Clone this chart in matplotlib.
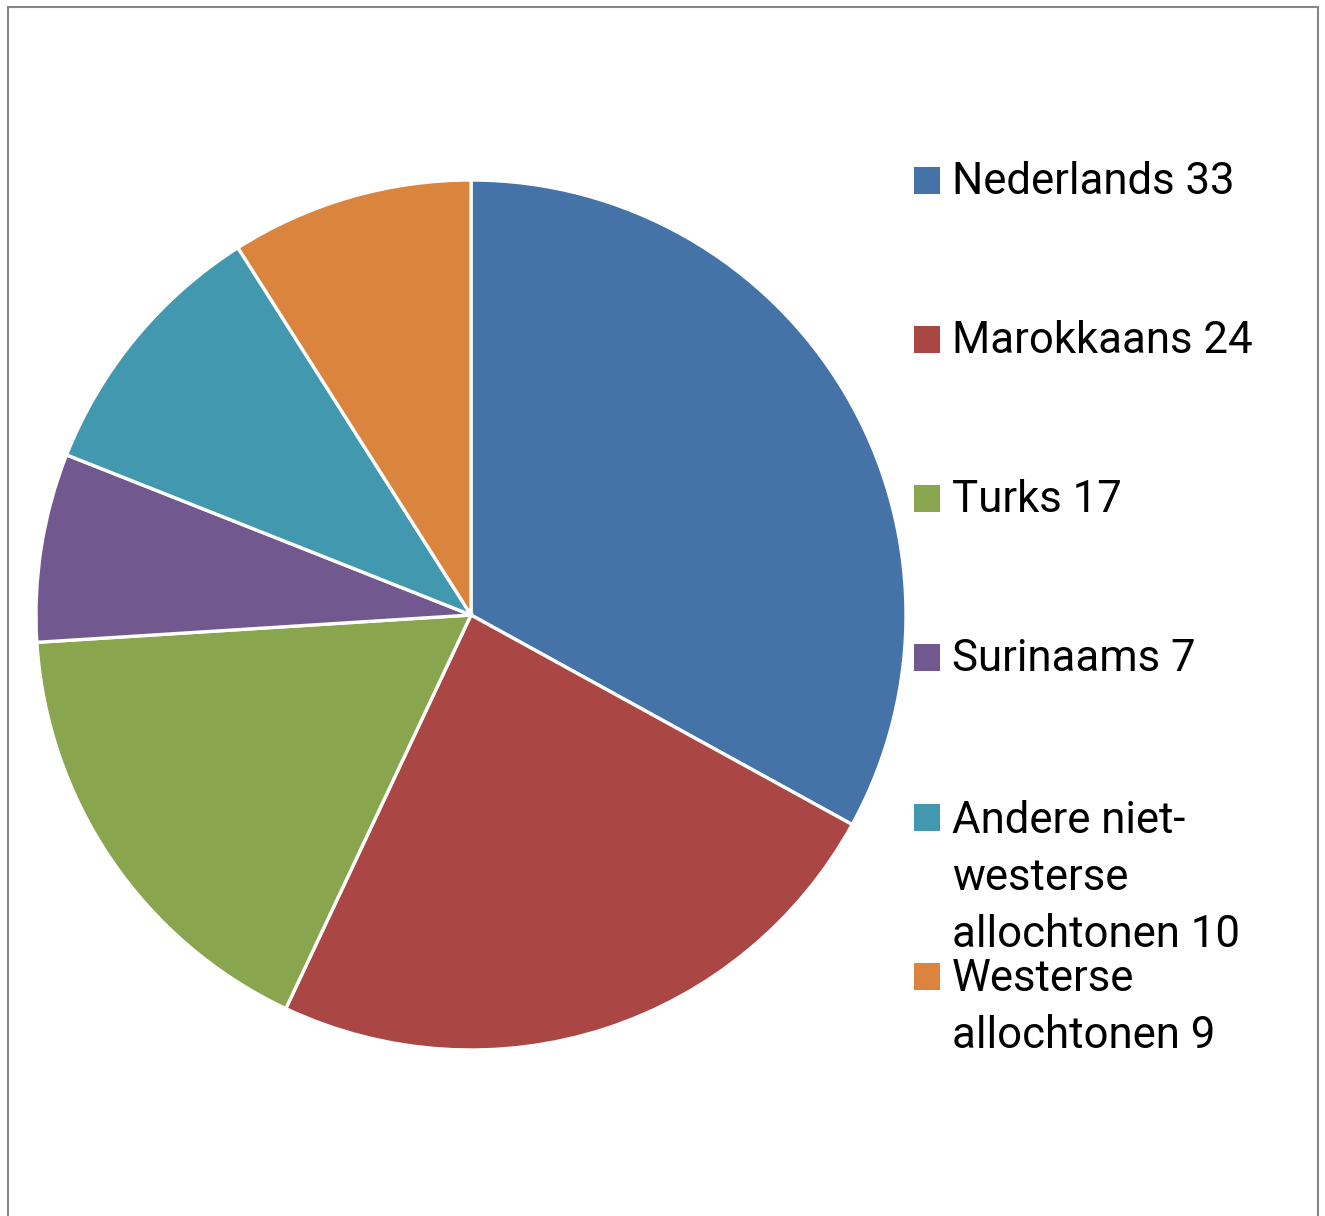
import matplotlib
matplotlib.use("Agg")
import matplotlib.pyplot as plt
from matplotlib.patches import Rectangle

# data
categories = ["Nederlands", "Marokkaans", "Turks", "Surinaams",
              "Andere niet-\nwesterse\nallochtonen", "Westerse\nallochtonen"]
values = [33, 24, 17, 7, 10, 9]
colors = ["#4572A7", "#AA4643", "#89A54E", "#71588F", "#4198AF", "#DB843D"]

W, H = 1325, 1216
fig = plt.figure(figsize=(W / 100, H / 100), dpi=100)
fig.patch.set_facecolor("white")

# pie: center (471, 615) px, radius 435 px
cx, cy, r = 471, 615, 435
ax = fig.add_axes([(cx - r) / W, (H - cy - r) / H, 2 * r / W, 2 * r / H])
ax.pie(values, colors=colors, startangle=90, counterclock=False, radius=1,
       wedgeprops=dict(edgecolor="white", linewidth=2.4))
ax.set_xlim(-1, 1)
ax.set_ylim(-1, 1)
ax.set_aspect("equal")
ax.axis("off")

# legend drawn by hand (square at first line, text baseline on last line)
first_base = [194, 353, 512, 671, 831, 990]
line_gap = 58
for cat, val, col, yb in zip(categories, values, colors, first_base):
    n = cat.count("\n")
    fig.patches.append(Rectangle((914 / W, (H - yb) / H), 26 / W, 27 / H,
                                 transform=fig.transFigure, facecolor=col,
                                 edgecolor="none"))
    fig.text(952 / W, (H - yb - n * line_gap) / H, f"{cat} {val}", fontsize=31.5,
             family="Roboto", va="baseline", ha="left", color="black",
             linespacing=1.46)

# outer frame
fig.patches.append(Rectangle((8 / W, -0.05), (1318 - 8) / W, (H - 7) / H + 0.05,
                             transform=fig.transFigure, facecolor="none",
                             edgecolor="#868686", linewidth=1.5))

fig.savefig("out.png", dpi=100)
